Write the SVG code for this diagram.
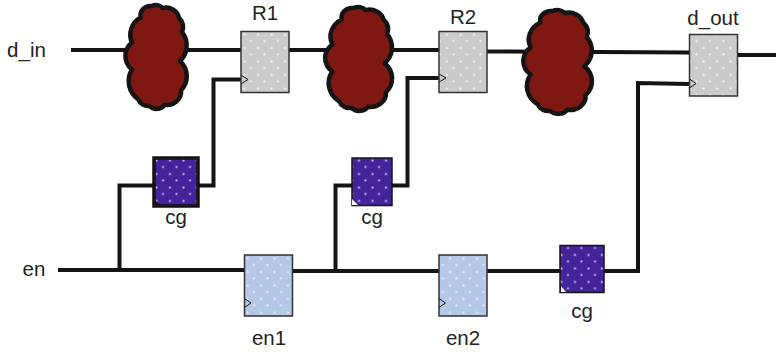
<svg xmlns="http://www.w3.org/2000/svg" xmlns:xlink="http://www.w3.org/1999/xlink" width="776" height="352" viewBox="0 0 776 352">
<style>
text{font-family:"Liberation Sans",Arial,sans-serif;font-size:20.500px;fill:#222;text-anchor:middle}
.w{fill:none;stroke:#141414;stroke-width:4;stroke-linejoin:miter}
.cloud{fill:#7f1810;stroke:#141414;stroke-width:4.5;stroke-linejoin:round;vector-effect:non-scaling-stroke}
.g{fill:url(#pg);stroke:#333;stroke-width:1.5}
.b{fill:url(#pb);stroke:#333;stroke-width:1.5}
.p{fill:url(#pp);stroke:#141414;stroke-width:1.5}
.ck{fill:none;stroke:#141414;stroke-width:1}
</style>
<defs>
<pattern id="pg" width="27" height="27" patternUnits="userSpaceOnUse" patternTransform="translate(241 31) scale(.5)">
<rect width="27" height="27" fill="#cacccb"/><circle cx="7" cy="7" r="2.200" fill="#f6f7f7"/><circle cx="20" cy="20" r="2.200" fill="#f6f7f7"/>
</pattern>
<pattern id="pb" width="27" height="27" patternUnits="userSpaceOnUse" patternTransform="translate(244 255) scale(.5)">
<rect width="27" height="27" fill="#b3c8e6"/><circle cx="7" cy="7" r="2.200" fill="#e8f0fa"/><circle cx="20" cy="20" r="2.200" fill="#e8f0fa"/>
</pattern>
<pattern id="pp" width="27" height="27" patternUnits="userSpaceOnUse" patternTransform="translate(153 157) scale(.5)">
<rect width="27" height="27" fill="#44249a"/><circle cx="7" cy="7" r="2.200" fill="#d0c5ec"/><circle cx="20" cy="20" r="2.200" fill="#d0c5ec"/>
</pattern>
<path id="c" class="cloud" d="M-14,-38A9,9 0 0 1 -4,-49A8,8 0 0 1 6,-47A12,12 0 0 1 21,-38A14,14 0 0 1 24,-24A22,22 0 0 1 22,4A20,20 0 0 1 23,32A13,13 0 0 1 8,46A9,9 0 0 1 -6,47A9,9 0 0 1 -16,41A22,22 0 0 1 -22,12A17,17 0 0 1 -22,-14A19,19 0 0 1 -14,-38Z"/>
</defs>
<g id="connectors">
<path class="w" d="M71,50H241M289,50H439M487,51.500L689,52.500M737,55H776"/>
<path class="w" d="M58,270H244M293,271H439M487,271H560M604,271H638V83L689,84"/>
<path class="w" d="M119.500,270V185.500H153M198,185.500H213.500V79.500H249"/>
<path class="w" d="M335.500,270V185.500H352M392,185.500H407.500V78H447"/>
</g>
<g id="cloud1"><use href="#c" transform="translate(156 57) scale(1.09 1.04)"/></g>
<g id="cloud2"><use href="#c" transform="translate(358.500 59) scale(1.19 1.04)"/></g>
<g id="cloud3"><use href="#c" transform="translate(557.500 62) scale(1.22 1.04)"/></g>
<g id="R1"><rect class="g" x="241" y="31.500" width="48" height="61"/><path class="ck" d="M241,75L248,79.500L241,84"/><text x="265" y="20">R1</text></g>
<g id="R2"><rect class="g" x="439" y="31.500" width="48" height="61"/><path class="ck" d="M439,74L446,78L439,82"/><text x="463" y="24">R2</text></g>
<g id="d_out"><rect class="g" x="689.500" y="34.500" width="48" height="61.500"/><path class="ck" d="M689.500,79L696,83.500L689.500,88"/><text x="713" y="25">d_out</text></g>
<g id="cg1"><rect class="p" x="154" y="158" width="44" height="48" style="stroke-width:3.500"/><path d="M155,205V200L160,205Z" fill="#141414"/><text x="176" y="224">cg</text></g>
<g id="cg2"><rect class="p" x="352" y="158" width="40" height="47.500"/><path d="M352,205V199L358,205Z" fill="#fff"/><text x="372" y="224">cg</text></g>
<g id="cg3"><rect class="p" x="560" y="245.500" width="44" height="47"/><path d="M561,292V286L566,292Z" fill="#fff"/><text x="582" y="318">cg</text></g>
<g id="en1"><rect class="b" x="244.500" y="255" width="48" height="61"/><path class="ck" d="M244.500,298.500L251,303L244.500,307.500"/><text x="269" y="345">en1</text></g>
<g id="en2"><rect class="b" x="439" y="255" width="48" height="61"/><path class="ck" d="M439,298.500L445.500,303L439,307.500"/><text x="463" y="345">en2</text></g>
<g id="labels"><text x="26.500" y="57">d_in</text><text x="34" y="276">en</text></g>
</svg>
